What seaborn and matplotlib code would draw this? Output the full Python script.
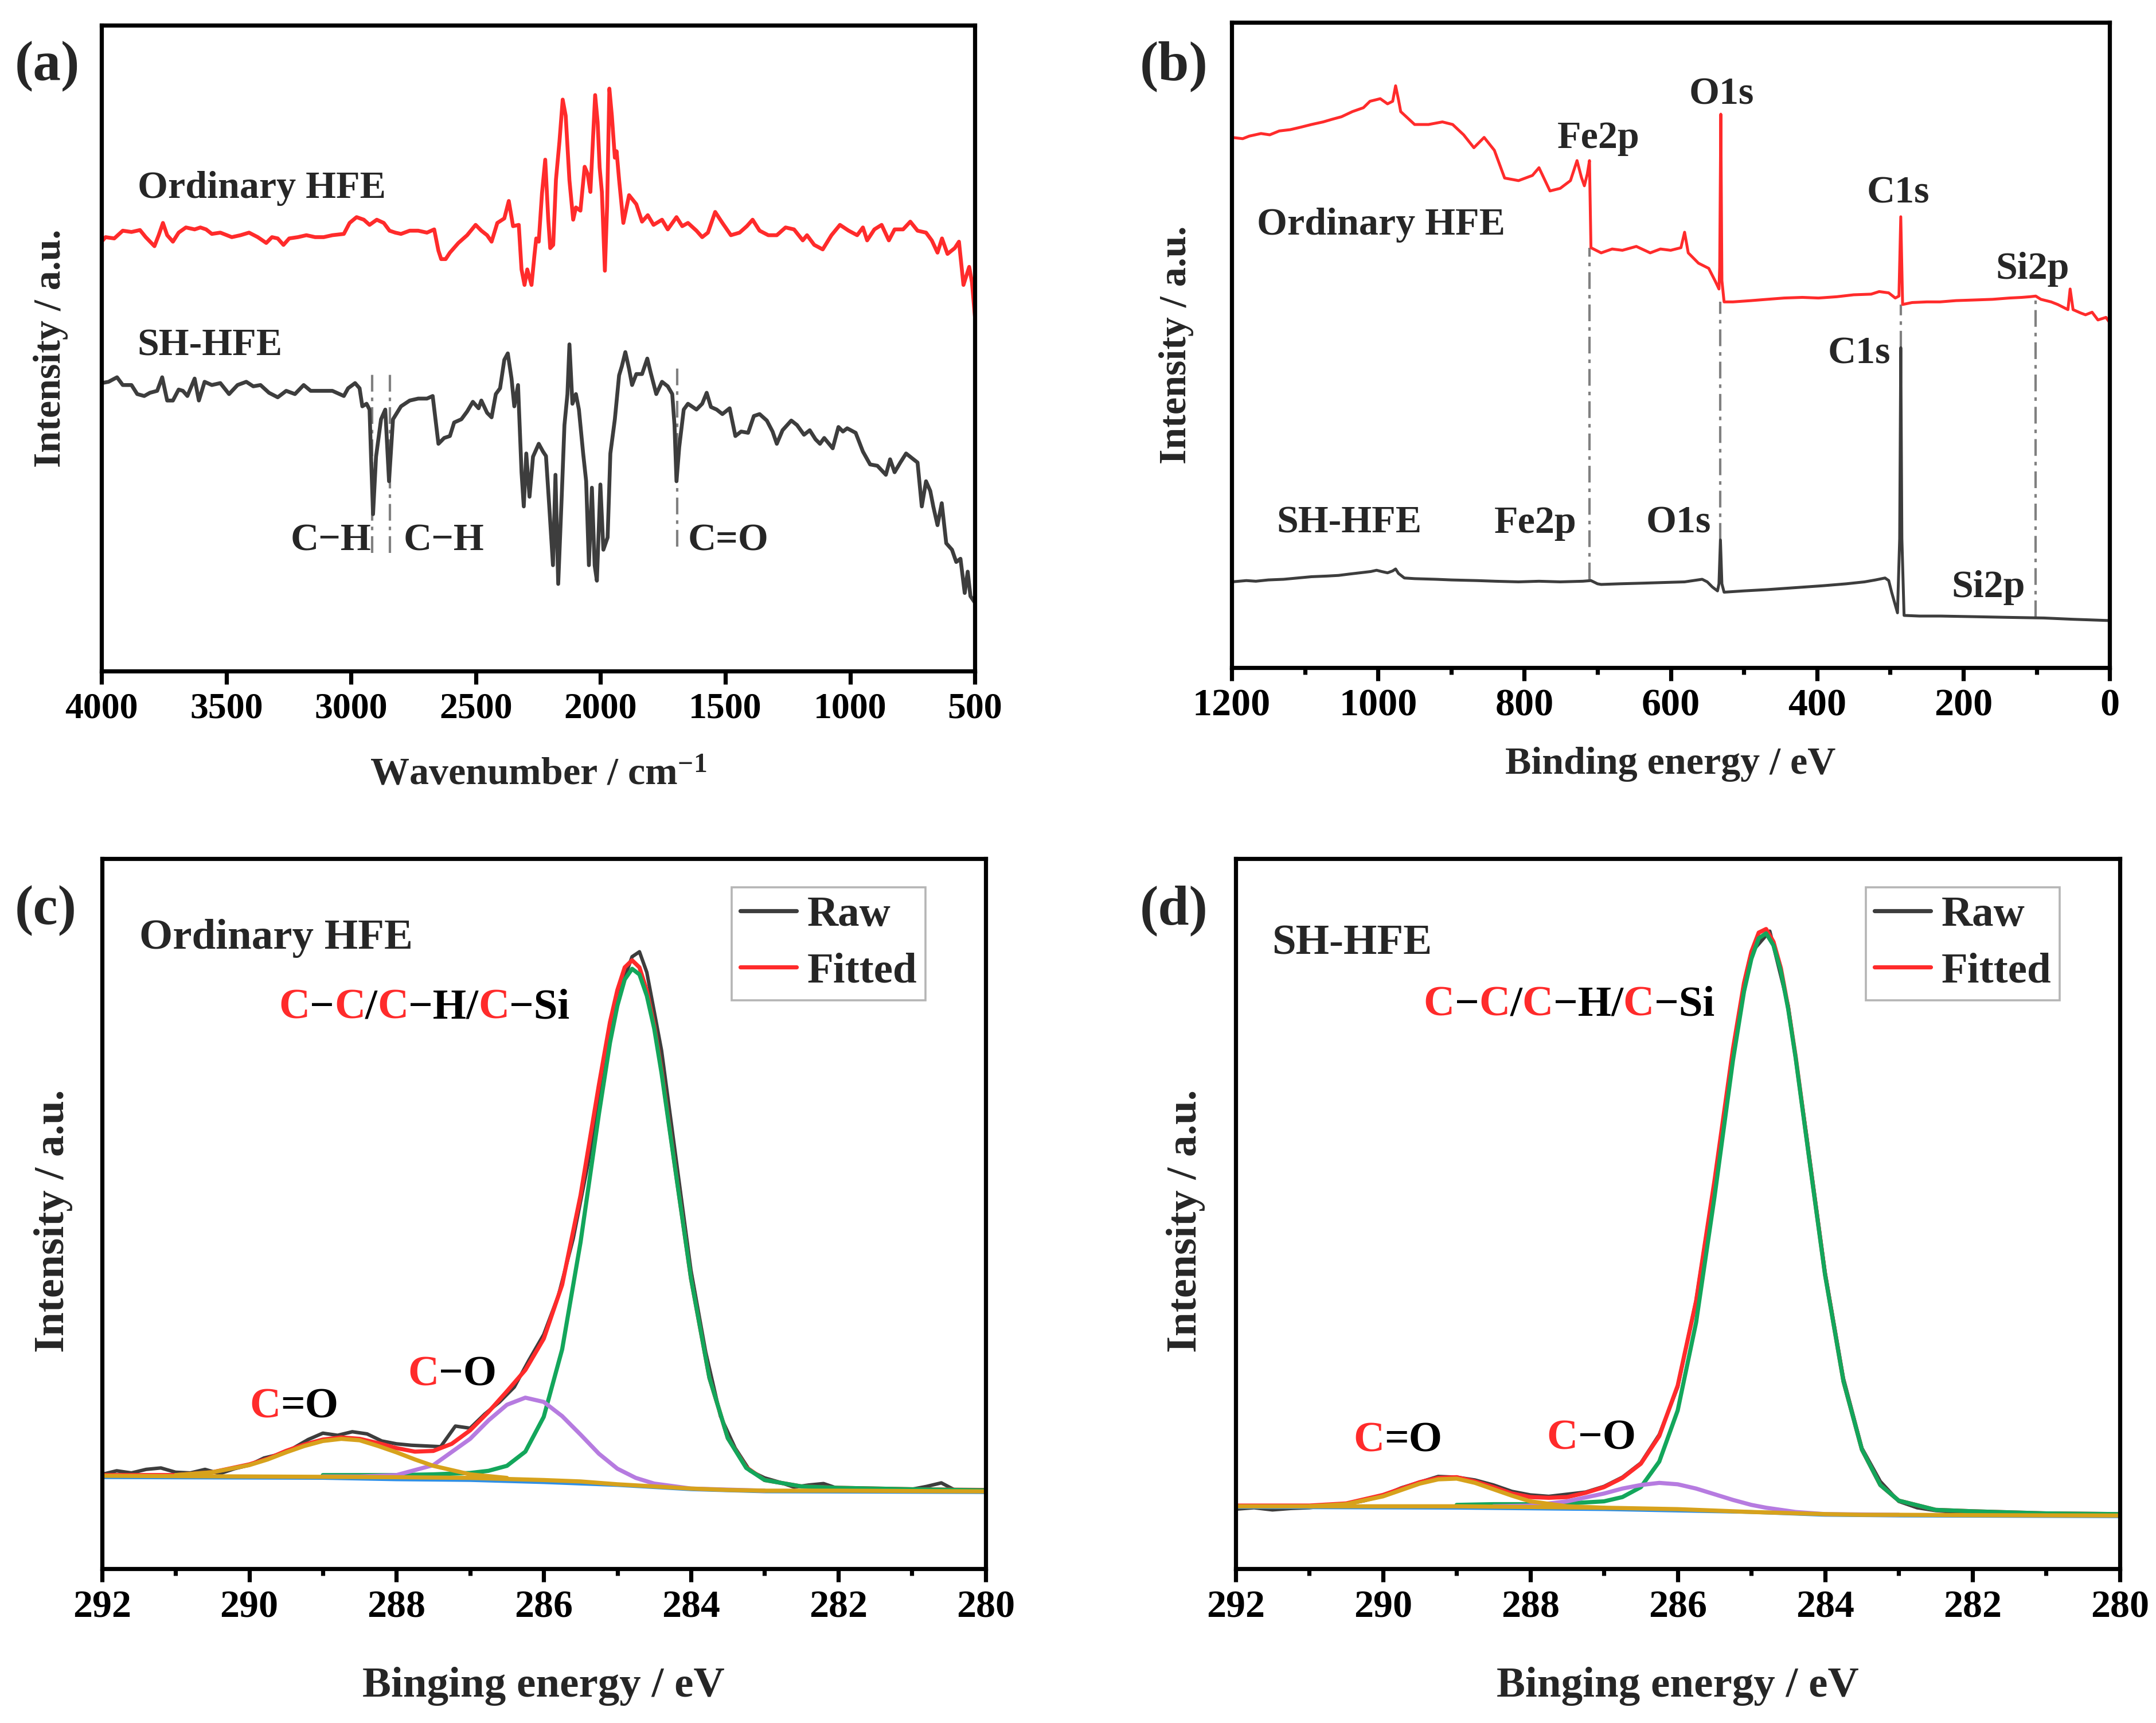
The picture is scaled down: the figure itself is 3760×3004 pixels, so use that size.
import matplotlib
matplotlib.use("Agg")
import matplotlib.pyplot as plt
import seaborn as sns
from matplotlib.lines import Line2D
from matplotlib.offsetbox import TextArea, HPacker, AnnotationBbox

# ---------------- (a) FTIR spectra ----------------
wn_ord = [4000, 3984, 3949, 3915, 3880, 3846, 3823, 3788, 3771, 3754,
          3737, 3714, 3691, 3662, 3627, 3604, 3581, 3558, 3524, 3478,
          3443, 3409, 3374, 3340, 3317, 3294, 3271, 3248, 3213, 3179,
          3144, 3110, 3075, 3029, 3006, 2978, 2949, 2926, 2897, 2869,
          2846, 2823, 2800, 2765, 2731, 2696, 2667, 2650, 2639, 2621,
          2604, 2570, 2535, 2501, 2478, 2455, 2437, 2414, 2386, 2368,
          2351, 2328, 2317, 2305, 2294, 2277, 2265, 2258, 2248, 2235,
          2222, 2210, 2202, 2190, 2179, 2165, 2152, 2140, 2125, 2110,
          2099, 2081, 2064, 2052, 2041, 2030, 2022, 2012, 2004, 1995,
          1983, 1974, 1965, 1955, 1943, 1936, 1926, 1909, 1886, 1857,
          1834, 1811, 1788, 1754, 1731, 1696, 1673, 1650, 1616, 1593,
          1570, 1541, 1512, 1478, 1443, 1414, 1391, 1363, 1328, 1294,
          1259, 1225, 1190, 1173, 1144, 1110, 1075, 1041, 1006, 972,
          949, 932, 903, 874, 845, 822, 788, 759, 730, 696,
          673, 650, 632, 610, 581, 564, 546, 523, 512, 500]
ir_ord = [66.5, 67.2, 67.0, 68.2, 68.0, 68.3, 67.2, 65.8, 67.5, 69.4,
          67.5, 66.5, 67.9, 68.7, 68.4, 68.7, 68.4, 67.7, 67.9, 67.2,
          67.5, 67.9, 67.2, 66.3, 67.2, 67.0, 66.0, 67.0, 67.2, 67.5,
          67.2, 67.2, 67.5, 67.7, 69.4, 70.3, 69.9, 69.1, 69.9, 69.4,
          68.2, 67.9, 67.7, 68.2, 68.2, 67.9, 68.4, 65.1, 63.8, 63.8,
          64.8, 66.3, 67.5, 69.1, 68.2, 67.5, 66.5, 69.4, 70.1, 72.8,
          68.9, 69.1, 62.2, 59.8, 62.2, 59.8, 64.5, 67.0, 66.5, 74.0,
          79.2, 70.0, 65.5, 66.0, 76.1, 82.0, 88.5, 86.0, 76.0, 69.9,
          71.8, 71.3, 78.1, 77.0, 74.2, 83.0, 89.2, 85.0, 78.0, 74.2,
          62.0, 72.0, 90.2, 86.0, 79.5, 80.5, 76.1, 69.4, 73.7, 72.3,
          69.6, 70.6, 69.1, 69.9, 68.4, 70.3, 68.9, 69.4, 68.2, 67.2,
          67.9, 71.1, 69.4, 67.5, 67.9, 68.9, 69.9, 68.2, 67.5, 67.5,
          68.7, 68.4, 66.7, 67.5, 66.0, 65.3, 67.5, 69.1, 68.2, 67.5,
          68.7, 66.7, 68.4, 69.1, 66.7, 68.4, 68.4, 69.6, 68.2, 67.9,
          66.7, 64.8, 67.0, 64.6, 65.5, 66.5, 59.8, 62.6, 60.2, 54.9]

wn_sh = [4000, 3972, 3938, 3915, 3880, 3857, 3829, 3806, 3777, 3757,
         3737, 3714, 3691, 3674, 3656, 3627, 3610, 3587, 3558, 3524,
         3489, 3455, 3420, 3392, 3363, 3329, 3294, 3260, 3225, 3190,
         3162, 3121, 3075, 3029, 3012, 2984, 2966, 2955, 2938, 2926,
         2920, 2912, 2900, 2880, 2863, 2848, 2832, 2800, 2765, 2731,
         2696, 2673, 2650, 2627, 2604, 2587, 2558, 2535, 2512, 2489,
         2478, 2455, 2437, 2420, 2403, 2386, 2372, 2357, 2346, 2331,
         2317, 2308, 2298, 2285, 2271, 2248, 2231, 2219, 2205, 2191,
         2181, 2170, 2156, 2145, 2133, 2125, 2113, 2099, 2087, 2070,
         2058, 2047, 2035, 2024, 2015, 2001, 1989, 1972, 1961, 1943,
         1926, 1915, 1901, 1886, 1874, 1857, 1834, 1813, 1800, 1777,
         1754, 1731, 1713, 1704, 1696, 1685, 1667, 1650, 1616, 1593,
         1575, 1558, 1535, 1512, 1483, 1460, 1437, 1409, 1386, 1363,
         1334, 1311, 1294, 1271, 1236, 1213, 1185, 1162, 1139, 1121,
         1104, 1070, 1047, 1029, 1012, 978, 949, 920, 891, 857,
         840, 822, 799, 776, 753, 730, 713, 696, 679, 667,
         650, 633, 615, 592, 575, 558, 541, 529, 518, 500]
ir_sh = [44.6, 44.8, 45.5, 44.3, 44.3, 42.9, 42.6, 43.1, 43.4, 45.5,
         41.9, 41.9, 43.6, 43.4, 42.6, 45.3, 41.9, 44.8, 44.3, 44.6,
         42.9, 44.3, 44.8, 44.1, 44.3, 43.1, 42.4, 43.4, 42.9, 44.3,
         43.4, 43.4, 43.4, 42.6, 43.8, 44.6, 43.8, 41.0, 41.4, 40.5,
         33.2, 24.3, 33.2, 39.0, 40.5, 29.4, 39.0, 41.0, 41.9, 42.2,
         42.2, 42.6, 35.2, 36.1, 36.4, 38.5, 39.0, 40.2, 41.7, 40.7,
         41.9, 40.0, 39.3, 42.9, 43.8, 48.2, 49.2, 45.3, 41.0, 44.3,
         30.8, 25.5, 33.7, 27.0, 33.2, 35.2, 34.0, 33.3, 25.0, 16.4,
         30.4, 13.5, 27.0, 38.1, 42.9, 50.6, 41.4, 42.9, 40.5, 33.7,
         29.4, 16.4, 28.4, 16.4, 14.0, 28.9, 18.8, 20.7, 33.7, 39.0,
         45.8, 47.2, 49.4, 46.8, 44.3, 46.0, 46.0, 48.4, 46.3, 42.9,
         44.8, 44.1, 42.9, 38.1, 29.4, 34.7, 40.5, 41.4, 40.5, 41.4,
         43.1, 40.9, 40.5, 39.8, 40.7, 36.4, 37.1, 36.9, 39.5, 39.8,
         38.8, 37.1, 35.2, 37.3, 38.8, 38.1, 36.6, 37.3, 35.9, 35.2,
         36.1, 34.5, 37.8, 37.1, 37.6, 36.9, 34.0, 32.0, 31.8, 30.4,
         32.8, 30.8, 32.3, 33.7, 33.0, 32.3, 25.5, 29.4, 27.9, 25.5,
         22.6, 26.0, 19.8, 18.8, 16.9, 17.4, 12.1, 15.4, 11.6, 10.6]

ir_guide_x = [2915, 2845, 1694]
ir_guide_lo = [18.3, 18.3, 19.3]
ir_guide_hi = [46.3, 46.3, 47.5]

# ---------------- (b) XPS survey ----------------
be_ord = [1200, 1185, 1176, 1160, 1148, 1135, 1120, 1105, 1091, 1075,
          1063, 1050, 1035, 1020, 1011, 997, 987, 980, 976, 972,
          969, 950, 931, 912, 898, 883, 869, 855, 841, 827,
          808, 789, 780, 765, 751, 737, 728, 722, 718, 714,
          711, 709, 695, 680, 666, 647, 628, 614, 600, 586,
          581, 576, 562, 548, 539, 534, 533, 531.5, 530, 527,
          515, 490, 468, 445, 420, 398, 373, 350, 326, 315,
          302, 293, 288, 285.5, 283, 270, 250, 232, 210, 184,
          160, 137, 120, 109, 101, 94, 80, 71, 57, 54,
          50, 40, 33, 24, 16, 5, 0]
sv_ord = [82.2, 82.0, 82.4, 82.8, 82.6, 83.2, 83.4, 83.8, 84.2, 84.6,
          85.0, 85.4, 86.2, 86.8, 87.8, 88.2, 87.4, 87.8, 90.2, 88.0,
          86.2, 84.2, 84.2, 84.6, 84.2, 82.6, 80.6, 82.2, 80.2, 75.9,
          75.5, 76.3, 77.5, 73.9, 74.3, 75.5, 78.6, 76.0, 74.7, 76.5,
          78.6, 65.1, 64.3, 64.9, 64.7, 65.3, 64.3, 64.9, 64.7, 65.1,
          67.5, 64.3, 62.7, 61.9, 59.9, 58.7, 62.0, 85.8, 60.0, 56.7,
          56.7, 56.9, 57.1, 57.3, 57.4, 57.3, 57.5, 57.8, 57.9, 58.3,
          58.1, 57.3, 57.6, 69.9, 56.3, 56.6, 56.7, 56.7, 56.9, 57.0,
          57.1, 57.3, 57.4, 57.5, 57.6, 57.1, 56.7, 56.3, 55.5, 58.7,
          55.5, 55.0, 54.7, 55.1, 53.9, 54.3, 53.5]

be_sh = [1200, 1180, 1167, 1150, 1129, 1110, 1091, 1070, 1054, 1040,
         1025, 1010, 1002, 995, 987, 980, 976, 972, 964, 950,
         921, 900, 865, 840, 808, 780, 751, 720, 709, 700,
         695, 670, 638, 610, 581, 557, 550, 543, 536, 534,
         532, 530, 527, 500, 468, 430, 392, 360, 335, 320,
         307, 302, 298, 290, 287, 285.5, 284, 281, 260, 231,
         184, 140, 90, 50, 0]
sv_sh = [13.3, 13.5, 13.4, 13.6, 13.7, 13.9, 14.1, 14.2, 14.3, 14.5,
         14.7, 14.9, 15.1, 14.9, 14.7, 15.0, 15.3, 14.6, 13.9, 13.8,
         13.7, 13.6, 13.5, 13.4, 13.3, 13.4, 13.3, 13.4, 13.5, 13.0,
         12.9, 13.0, 13.1, 13.2, 13.3, 13.7, 13.3, 12.5, 11.9, 13.0,
         19.8, 13.0, 11.7, 11.9, 12.1, 12.4, 12.7, 13.0, 13.3, 13.6,
         13.9, 13.5, 11.7, 8.5, 20.0, 49.6, 20.0, 8.1, 8.0, 8.0,
         7.9, 7.8, 7.7, 7.5, 7.3]

sv_guide_x = [711, 532, 285.5, 101]
sv_guide_lo = [13.7, 19.8, 49.6, 7.8]
sv_guide_hi = [65.1, 56.7, 56.3, 57.6]

# ---------------- (c) C1s, Ordinary HFE ----------------
c_raw_be = [292.0, 291.8, 291.6, 291.4, 291.2, 291.0, 290.8, 290.6, 290.4, 290.2,
            290.0, 289.8, 289.6, 289.4, 289.2, 289.0, 288.8, 288.6, 288.4, 288.2,
            288.0, 287.8, 287.6, 287.4, 287.2, 287.0, 286.8, 286.6, 286.4, 286.2,
            286.0, 285.8, 285.6, 285.4, 285.2, 285.0, 284.8, 284.7, 284.6, 284.4,
            284.2, 284.0, 283.8, 283.6, 283.4, 283.2, 283.0, 282.8, 282.6, 282.4,
            282.2, 282.0, 281.8, 281.6, 281.4, 281.2, 281.0, 280.8, 280.6, 280.4,
            280.2, 280.0]
c_raw = [13.3, 13.8, 13.5, 14.0, 14.2, 13.6, 13.5, 14.0, 13.4, 14.1,
         14.6, 15.6, 16.1, 17.0, 18.2, 19.1, 18.8, 19.3, 19.0, 18.0,
         17.6, 17.4, 17.3, 17.2, 20.1, 19.8, 21.8, 23.5, 25.6, 29.4,
         33.0, 38.5, 46.5, 57.0, 69.0, 80.5, 86.2, 86.9, 84.0, 73.0,
         57.5, 42.0, 30.5, 21.5, 17.0, 13.8, 12.8, 12.2, 11.5, 11.8,
         12.0, 11.3, 11.4, 11.1, 11.3, 11.0, 11.2, 11.6, 12.1, 11.0,
         10.9, 10.8]

fit_be = [292, 291, 290.5, 290, 289.75, 289.5, 289.25, 289, 288.75, 288.5,
          288.25, 288, 287.75, 287.5, 287.25, 287, 286.75, 286.5, 286.25, 286,
          285.75, 285.5, 285.25, 285.1, 285, 284.9, 284.8, 284.7, 284.6, 284.5,
          284.4, 284.2, 284, 283.75, 283.5, 283.25, 283, 282.5, 282, 281, 280]
c_fit = [13.2, 13.2, 13.6, 14.7, 15.5, 16.6, 17.5, 18.2, 18.5, 18.3,
         17.7, 17.0, 16.5, 16.6, 17.6, 19.5, 22.1, 25.0, 28.0, 32.4,
         40.0, 52.6, 68.2, 77.0, 81.5, 84.7, 85.7, 84.7, 81.4, 76.5,
         70.2, 55.4, 40.9, 26.9, 18.4, 14.3, 12.5, 11.6, 11.4, 11.2, 11.1]

cc_be = [289, 288.5, 288, 287.5, 287, 286.75, 286.5, 286.25, 286, 285.75,
         285.5, 285.25, 285.1, 285, 284.9, 284.8, 284.7, 284.6, 284.5, 284.4,
         284.2, 284, 283.75, 283.5, 283.25, 283, 282.5, 282, 281, 280]
c_cc = [13.2, 13.2, 13.2, 13.3, 13.5, 13.8, 14.5, 16.5, 21.4, 30.9,
        46.0, 64.1, 74.1, 79.3, 83.0, 84.5, 83.7, 80.7, 76.1, 69.8,
        55.3, 40.9, 26.9, 18.4, 14.2, 12.5, 11.6, 11.4, 11.2, 11.05]

c_co_be = [289, 288.5, 288, 287.5, 287, 286.75, 286.5, 286.25, 286, 285.75,
           285.5, 285.25, 285, 284.75, 284.5, 284, 283]
c_co = [13.0, 13.0, 13.2, 14.6, 18.3, 20.9, 23.1, 24.1, 23.5, 21.5,
        18.9, 16.2, 14.1, 12.8, 12.0, 11.3, 11.0]

c_cdo_be = [291, 290.5, 290, 289.75, 289.5, 289.25, 289, 288.75, 288.5, 288.25,
            288, 287.75, 287.5, 287, 286.5]
c_cdo = [13.2, 13.6, 14.6, 15.4, 16.4, 17.3, 18.0, 18.3, 18.1, 17.3,
         16.4, 15.4, 14.5, 13.3, 12.8]

c_bg_be = [292, 290, 288, 287, 286, 285.5, 285, 284.5, 284, 283.5, 283, 282, 280]
c_bg = [13.1, 13.0, 12.9, 12.8, 12.5, 12.3, 11.9, 11.6, 11.3, 11.1, 11.0, 11.0, 10.9]
c_blue_be = [292, 289, 288, 287, 286, 285, 284, 283, 280]
c_blue = [12.9, 12.8, 12.6, 12.5, 12.2, 11.8, 11.2, 10.9, 10.8]

# ---------------- (d) C1s, SH-HFE ----------------
d_raw_be = [292, 291.75, 291.5, 291.25, 291, 290.75, 290.5, 290.25, 290, 289.75,
            289.5, 289.25, 289, 288.75, 288.5, 288.25, 288, 287.75, 287.5, 287.25,
            287, 286.75, 286.5, 286.25, 286, 285.75, 285.5, 285.25, 285, 284.75,
            284.5, 284.25, 284, 283.75, 283.5, 283.25, 283, 282.75, 282.5, 282.25,
            282, 281.5, 281, 280.5, 280]
d_raw = [8.4, 8.6, 8.3, 8.5, 8.6, 8.9, 9.1, 9.6, 10.3, 11.4,
         12.2, 13.0, 12.9, 12.5, 11.8, 10.9, 10.4, 10.2, 10.5, 10.8,
         11.6, 12.9, 14.9, 18.9, 25.6, 37.8, 54.5, 73.0, 86.8, 89.8,
         79.3, 61.0, 41.8, 26.8, 17.0, 12.3, 9.5, 8.6, 8.2, 8.0,
         7.9, 7.8, 7.7, 7.6, 7.6]
d_fit = [8.9, 8.9, 9.2, 10.4, 11.3, 12.2, 12.8, 12.9, 12.3, 11.5,
         10.6, 10.1, 10.0, 10.1, 10.7, 11.5, 12.8, 14.8, 18.7, 25.8,
         37.7, 54.7, 73.2, 82.5, 86.9, 89.6, 90.1, 88.3, 84.6, 79.0,
         72.2, 56.7, 41.5, 26.4, 16.8, 11.8, 9.6, 8.3, 8.1, 7.8, 7.7]
d_cc = [9.0, 9.1, 9.1, 9.2, 9.5, 10.1, 11.5, 15.1, 22.3, 34.7,
        52.4, 71.6, 81.3, 85.9, 88.8, 89.5, 87.8, 84.2, 78.8, 72.0,
        56.6, 41.4, 26.4, 16.8, 11.8, 9.6, 8.3, 8.1, 7.8, 7.7]
d_co_be = [288.5, 288, 287.5, 287, 286.75, 286.5, 286.25, 286, 285.75, 285.5,
           285.25, 285, 284.8, 284.6, 284.4, 284, 283]
d_co = [8.8, 8.9, 9.5, 10.6, 11.3, 11.8, 12.1, 11.9, 11.3, 10.5,
        9.7, 9.0, 8.6, 8.3, 8.0, 7.7, 7.6]
d_cdo_be = [291, 290.5, 290, 289.75, 289.5, 289.25, 289, 288.75, 288.5, 288.25,
            288, 287.5, 287]
d_cdo = [8.8, 9.1, 10.2, 11.1, 12.0, 12.6, 12.7, 12.1, 11.2, 10.3,
         9.5, 8.8, 8.6]
d_bg_be = [292, 289, 287, 286, 285.5, 285, 284.5, 284, 283.5, 283, 282, 280]
d_bg = [8.8, 8.8, 8.6, 8.4, 8.2, 8.0, 7.85, 7.7, 7.6, 7.6, 7.55, 7.5]
d_blue_be = [292, 289, 287, 285, 284, 283, 280]
d_blue = [8.7, 8.6, 8.4, 8.0, 7.6, 7.5, 7.4]

RED = "#FF2B2B"
DARK = "#3D3D3D"
GREEN = "#13A65B"
PURPLE = "#B67BE0"
GOLD = "#D7A21C"
BLUE = "#2E8FE6"
GUIDE = "#808080"

sns.set_theme(style="ticks")
plt.rcParams["font.family"] = ["Liberation Serif", "DejaVu Serif"]
plt.rcParams["font.weight"] = "bold"
plt.rcParams["axes.labelweight"] = "bold"
plt.rcParams["mathtext.fontset"] = "custom"
plt.rcParams["mathtext.rm"] = "Liberation Serif:bold"
plt.rcParams["mathtext.bf"] = "Liberation Serif:bold"
plt.rcParams["mathtext.it"] = "Liberation Serif:bold"

fig = plt.figure(figsize=(18.8, 15.02), dpi=200)
ax_a = fig.add_axes([0.0471, 0.6105, 0.4051, 0.3748])
ax_b = fig.add_axes([0.5713, 0.6125, 0.4072, 0.3744])
ax_c = fig.add_axes([0.0473, 0.0895, 0.4098, 0.4121])
ax_d = fig.add_axes([0.5731, 0.0895, 0.4101, 0.4121])


def style_axes(ax, xlim, major, minor, tick_size):
    ax.set_xlim(*xlim)
    ax.set_ylim(0, 100)
    ax.set_xticks(major)
    ax.set_xticks(minor, minor=True)
    ax.set_yticks([])
    ax.tick_params(axis="x", which="major", direction="out", length=8.3, width=2.6,
                   labelsize=tick_size, pad=5, color="black", labelcolor="black")
    ax.tick_params(axis="x", which="minor", direction="out", length=4.3, width=2.6,
                   color="black")
    for sp in ax.spines.values():
        sp.set_visible(True)
        sp.set_linewidth(2.6)
        sp.set_color("black")


def line(ax, x, y, color, lw):
    sns.lineplot(x=x, y=y, ax=ax, color=color, lw=lw, sort=False,
                 legend=False, errorbar=None, estimator=None)


def colored_label(ax, parts, x, y, size):
    areas = [TextArea(s, textprops=dict(color=c, fontsize=size, fontweight="bold"))
             for s, c in parts]
    box = HPacker(children=areas, align="baseline", pad=0, sep=0)
    ab = AnnotationBbox(box, (x, y), xycoords="axes fraction", box_alignment=(0, 0),
                        frameon=False, pad=0)
    ax.add_artist(ab)


guide_style = dict(colors=GUIDE, linestyles=(0, (7, 2.5, 1.5, 2.5)), lw=1.5, zorder=1)

# (a)
line(ax_a, wn_ord, ir_ord, RED, 2.4)
line(ax_a, wn_sh, ir_sh, DARK, 2.4)
ax_a.vlines(ir_guide_x, ir_guide_lo, ir_guide_hi, **guide_style)
style_axes(ax_a, (4000, 500), list(range(4000, 499, -500)), [], 23)
ax_a.set_xlabel("Wavenumber / cm$^{-1}$", fontsize=24.5)
ax_a.set_ylabel("Intensity / a.u.", fontsize=24.5)
ax_a.xaxis.set_label_coords(0.5, -0.133)
ax_a.yaxis.set_label_coords(-0.038, 0.5)
fa = dict(fontsize=24.5, fontweight="bold", transform=ax_a.transAxes, va="baseline")
ax_a.text(0.041, 0.733, "Ordinary HFE", ha="left", **fa)
ax_a.text(0.041, 0.489, "SH-HFE", ha="left", **fa)
ax_a.text(0.309, 0.187, "C\u2212H", ha="right", **fa)
ax_a.text(0.346, 0.187, "C\u2212H", ha="left", **fa)
ax_a.text(0.671, 0.187, "C=O", ha="left", **fa)

# (b)
line(ax_b, be_ord, sv_ord, RED, 1.8)
line(ax_b, be_sh, sv_sh, DARK, 1.8)
ax_b.vlines(sv_guide_x, sv_guide_lo, sv_guide_hi, **guide_style)
style_axes(ax_b, (1200, 0), list(range(1200, -1, -200)), list(range(1100, 0, -200)), 24.5)
ax_b.set_xlabel("Binding energy / eV", fontsize=24.5)
ax_b.set_ylabel("Intensity / a.u.", fontsize=24.5)
ax_b.xaxis.set_label_coords(0.5, -0.123)
ax_b.yaxis.set_label_coords(-0.043, 0.5)
fb = dict(fontsize=24.5, fontweight="bold", transform=ax_b.transAxes, va="baseline")
ax_b.text(0.558, 0.874, "O1s", ha="center", **fb)
ax_b.text(0.418, 0.806, "Fe2p", ha="center", **fb)
ax_b.text(0.759, 0.721, "C1s", ha="center", **fb)
ax_b.text(0.029, 0.671, "Ordinary HFE", ha="left", **fb)
ax_b.text(0.912, 0.603, "Si2p", ha="center", **fb)
ax_b.text(0.715, 0.472, "C1s", ha="center", **fb)
ax_b.text(0.051, 0.209, "SH-HFE", ha="left", **fb)
ax_b.text(0.346, 0.209, "Fe2p", ha="center", **fb)
ax_b.text(0.509, 0.209, "O1s", ha="center", **fb)
ax_b.text(0.862, 0.109, "Si2p", ha="center", **fb)

# (c) and (d)
xps_panels = [
    (ax_c, c_raw_be, c_raw, c_fit, c_cc, c_co_be, c_co, c_cdo_be, c_cdo,
     c_bg_be, c_bg, c_blue_be, c_blue, "Ordinary HFE", 0.042, 0.873,
     (0.200, 0.762), (0.167, 0.200), (0.346, 0.245), -0.033),
    (ax_d, d_raw_be, d_raw, d_fit, d_cc, d_co_be, d_co, d_cdo_be, d_cdo,
     d_bg_be, d_bg, d_blue_be, d_blue, "SH-HFE", 0.041, 0.866,
     (0.2125, 0.766), (0.133, 0.152), (0.352, 0.156), -0.034),
]
for (ax, rbe, raw, fit, cc, cobe, co, cdobe, cdo, bgbe, bg, blbe, bl, name, nx, ny,
     main_xy, cdo_xy, co_xy, ylab_x) in xps_panels:
    line(ax, rbe, raw, DARK, 2.2)
    line(ax, fit_be, fit, RED, 2.6)
    line(ax, blbe, bl, BLUE, 2.4)
    line(ax, cc_be, cc, GREEN, 2.6)
    line(ax, cobe, co, PURPLE, 2.6)
    line(ax, bgbe, bg, GOLD, 2.6)
    line(ax, cdobe, cdo, GOLD, 2.6)
    style_axes(ax, (292, 280), list(range(292, 279, -2)), list(range(291, 280, -2)), 24.5)
    ax.set_xlabel("Binging energy / eV", fontsize=27)
    ax.set_ylabel("Intensity / a.u.", fontsize=27)
    ax.xaxis.set_label_coords(0.5, -0.138)
    ax.yaxis.set_label_coords(ylab_x, 0.49)
    ax.text(nx, ny, name, fontsize=27, fontweight="bold", transform=ax.transAxes,
            ha="left", va="baseline")
    colored_label(ax, [("C", RED), ("\u2212", "black"), ("C", RED), ("/", "black"),
                       ("C", RED), ("\u2212H/", "black"), ("C", RED), ("\u2212Si", "black")],
                  main_xy[0], main_xy[1], 27)
    colored_label(ax, [("C", RED), ("=O", "black")], cdo_xy[0], cdo_xy[1], 27)
    colored_label(ax, [("C", RED), ("\u2212O", "black")], co_xy[0], co_xy[1], 27)
    handles = [Line2D([], [], color=DARK, lw=2.6, label="Raw"),
               Line2D([], [], color=RED, lw=2.6, label="Fitted")]
    leg = ax.legend(handles=handles, loc="upper right", bbox_to_anchor=(0.932, 0.960),
                    borderaxespad=0, frameon=True, fancybox=False, edgecolor="#B5B5B5",
                    framealpha=1, prop=dict(size=27, weight="bold"), handlelength=1.3,
                    handletextpad=0.25, labelspacing=0.4, borderpad=0.2)
    leg.get_frame().set_linewidth(1.3)

# panel letters
for letter, fx, fy in [("(a)", 0.0069, 0.9614), ("(b)", 0.5287, 0.9614),
                       ("(c)", 0.0069, 0.4714), ("(d)", 0.5287, 0.4714)]:
    fig.text(fx, fy, letter, fontsize=35, fontweight="bold", ha="left", va="center")

fig.savefig("out.png", dpi=200)
